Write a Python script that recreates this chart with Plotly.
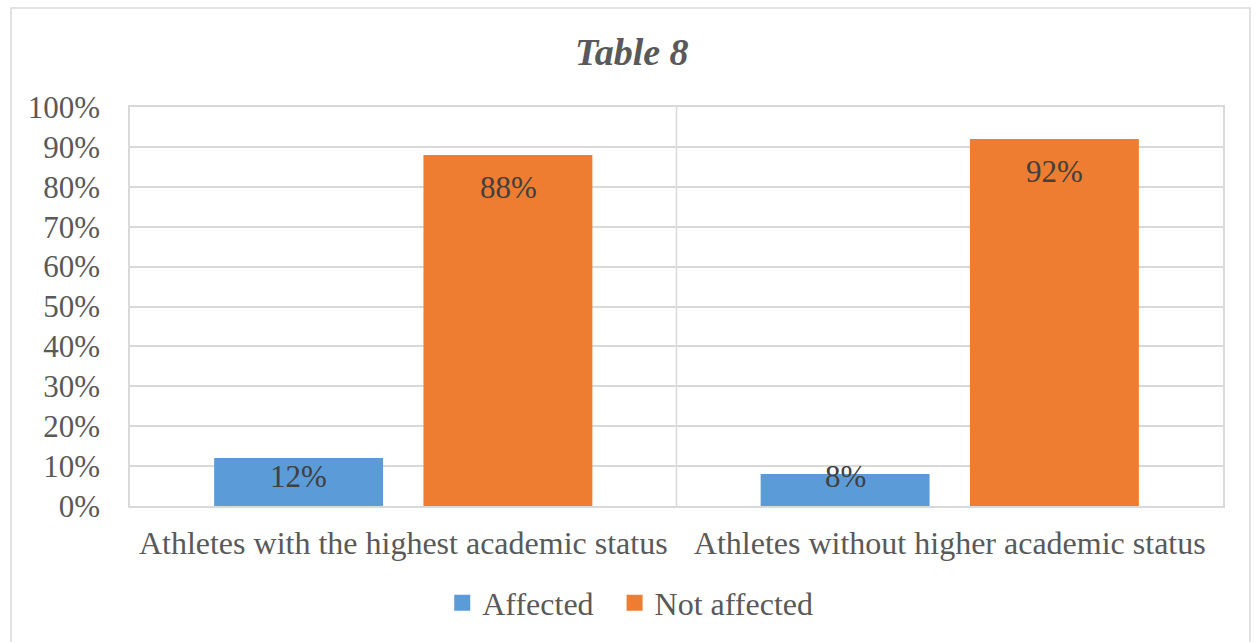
import plotly.graph_objects as go

categories = ["Athletes with the highest academic status", "Athletes without higher academic status"]
affected = [0.12, 0.08]
not_affected = [0.88, 0.92]
series_names = ["Affected", "Not affected"]
series_colors = ["#5b9bd8", "#ee7d31"]
title_text = "Table 8"

FONT = "Liberation Serif, Times New Roman, serif"
GRID = "#d9d9d9"
TXT = "#595959"

fig = go.Figure()
for name, vals, col in zip(series_names, [affected, not_affected], series_colors):
    fig.add_trace(go.Bar(name=name, x=categories, y=vals, showlegend=False,
                         marker=dict(color=col, line=dict(width=0))))
# legend entries with larger square swatches
for name, col in zip(series_names, series_colors):
    fig.add_trace(go.Scatter(name=name + "\u00a0\u00a0", x=[None], y=[None], mode="markers",
                             marker=dict(symbol="square", size=16, color=col),
                             showlegend=True))

# data labels (inside end, pushed to a minimum height for short bars)
plot_h = 399.0
for ti, vals in enumerate([affected, not_affected]):
    for ci, v in enumerate(vals):
        off = 33 / plot_h
        ylab = max(v - off, 0.073)
        fig.add_annotation(x=categories[ci], y=ylab, text=f"{round(v*100)}%",
                           showarrow=False, xshift=(-104.75 if ti == 0 else 104.75),
                           yanchor="middle",
                           font=dict(family=FONT, size=31, color="#404040"))

# category divider
fig.add_shape(type="line", xref="x", yref="paper", x0=0.5, x1=0.5, y0=0, y1=1,
              line=dict(color=GRID, width=1.5), layer="below")
# outer chart border
fig.add_shape(type="rect", xref="paper", yref="paper",
              x0=(11-130)/1093, x1=(1250-130)/1093, y0=-0.45, y1=(506-8)/399,
              line=dict(color=GRID, width=1.5), fillcolor="rgba(0,0,0,0)")

fig.update_layout(
    width=1256, height=642,
    margin=dict(l=130, r=33, t=107, b=136),
    paper_bgcolor="white", plot_bgcolor="white",
    barmode="group", bargap=0.234, bargroupgap=0.193,
    title=dict(text="<b><i>" + title_text + "</i></b>", x=0.503, xanchor="center",
               y=1 - 52/642, yanchor="middle", yref="container",
               font=dict(family=FONT, size=38, color=TXT)),
    legend=dict(orientation="h", x=0.465, xanchor="center", y=-0.243, yanchor="middle",
                font=dict(family=FONT, size=32, color=TXT), itemwidth=30,
                traceorder="normal"),
    font=dict(family=FONT, color=TXT),
)
fig.update_xaxes(showline=True, linecolor=GRID, linewidth=1.5, mirror=True,
                 tickfont=dict(family=FONT, size=32, color=TXT),
                 ticklabelstandoff=8, showgrid=False)
fig.update_yaxes(range=[0, 1], dtick=0.1, tickformat=".0%", showgrid=True,
                 gridcolor=GRID, gridwidth=1.5, showline=True, linecolor=GRID,
                 linewidth=1.5, mirror=True, zeroline=False,
                 tickfont=dict(family=FONT, size=31, color=TXT),
                 ticklabelstandoff=22)

fig.write_html("out.html")
